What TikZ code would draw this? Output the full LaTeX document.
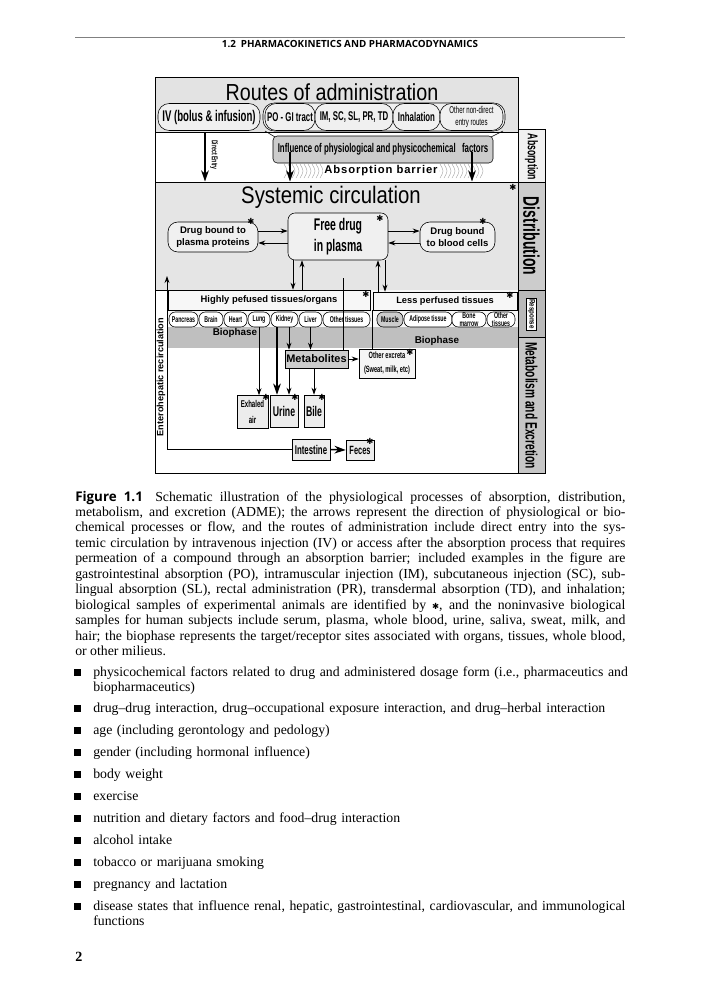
\documentclass[tikz,border=0pt]{standalone}
\usepackage{fontspec}
\setmainfont{Liberation Serif}
\setsansfont{Liberation Sans}
\newfontfamily\condf[FakeStretch=0.62]{Liberation Sans}
\newfontfamily\narrf[FakeStretch=0.8]{Liberation Sans}
\newfontfamily\titlef[FakeStretch=0.85]{Liberation Sans}
\newfontfamily\headf{Open Sans}
\newfontfamily\symf{DejaVu Sans}
\usetikzlibrary{arrows.meta}

\tikzset{
  boxwh/.style 2 args={minimum width=#1*0.025cm, minimum height=#2*0.025cm},
  panel/.style={draw, line width=0.7pt},
  route/.style={draw, rounded corners=8pt, fill=gray!12, inner sep=0.5pt, align=center,
    font=\condf\bfseries\fontsize{9}{10}\selectfont},
  organ/.style={draw, rounded corners=4.5pt, inner sep=0pt, align=center,
    font=\condf\bfseries\fontsize{6}{5.5}\selectfont},
  bound/.style={draw, rounded corners=7pt, fill=gray!12, align=center, inner sep=1pt,
    font=\sffamily\bfseries\fontsize{6.8}{8.5}\selectfont},
  outbox/.style={draw, fill=gray!15, inner sep=0.5pt, align=center},
  ast/.style={inner sep=0pt, font=\symf\fontsize{6}{6}\selectfont},
  arr/.style={-{Stealth[length=5pt,width=3.5pt]}, line width=0.7pt},
  bigarr/.style={-{Stealth[length=8pt,width=5.5pt]}, line width=1.1pt},
  body/.style={inner sep=0pt, font=\fontsize{9.8}{11}\selectfont},
  bul/.style={fill=black, inner sep=0pt, minimum size=0.16cm},
}

\begin{document}
\begin{tikzpicture}[x=0.025cm, y=-0.025cm]
  % Page
  \path[use as bounding box, fill=white] (0,0) rectangle (700,1000);

  % Running head
  \draw[gray, line width=0.4pt] (75,37) -- (625,37);
  \node[anchor=base, inner sep=0pt, font=\headf\bfseries\fontsize{7}{8}\selectfont] (head) at (350,47)
    {1.2\enspace PHARMACOKINETICS AND PHARMACODYNAMICS};

  % Panels
  \node[panel, fill=gray!22, boxwh={363}{55}] (routes) at (336.5,104.5) {};
  \node[panel, fill=gray!20, boxwh={363}{108}] (syst) at (336.5,236) {};
  \fill[gray!6] (168,290) rectangle (518,327);
  \fill[gray!50] (168,327) rectangle (518,348);
  \draw[panel] (155,132) -- (155,473) -- (545,473) -- (545,132) -- (518,132);

  % Side column
  \node[draw, fill=gray!12, rotate=-90, boxwh={50}{27}, font=\condf\bfseries\fontsize{10}{10}\selectfont]
    (absorb) at (531.5,157) {Absorption};
  \node[draw, fill=gray!40, rotate=-90, boxwh={108}{27}, font=\condf\bfseries\fontsize{16}{16}\selectfont]
    (distrib) at (531.5,236) {Distribution};
  \node[draw, fill=gray!55, rotate=-90, boxwh={48}{27}] (resp) at (531.5,314) {};
  \node[draw, fill=white, rotate=-90, inner sep=1pt, font=\narrf\bfseries\fontsize{5.5}{6}\selectfont]
    (resplabel) at (531.5,314) {Response};
  \node[draw, fill=gray!45, rotate=-90, boxwh={135}{27}, font=\condf\bfseries\fontsize{11.7}{12}\selectfont]
    (metexc) at (531.5,405.5) {Metabolism and Excretion};

  % Routes of administration
  \node[anchor=base, inner sep=0pt, font=\titlef\fontsize{16.5}{17}\selectfont] (routetitle) at (332,100)
    {Routes of administration};
  \draw[rounded corners=8pt, fill=gray!12] (263,103) rectangle (505,131);
  \node[route, boxwh={102}{27}, font=\condf\bfseries\fontsize{11}{11}\selectfont] (iv) at (209,117)
    {IV (bolus \& infusion)};
  \node[route, boxwh={50}{27}] (po) at (290,117) {PO - GI tract};
  \node[route, boxwh={78}{27}] (im) at (354,117) {IM, SC, SL, PR, TD};
  \node[route, boxwh={47}{27}] (inh) at (416.5,117) {Inhalation};
  \node[route, boxwh={63}{27}, font=\condf\fontsize{7}{8}\selectfont] (other) at (471.5,117)
    {Other non-direct\\entry routes};

  % Absorption
  \draw (265,131) -- (275,137);
  \draw (503,131) -- (491,137);
  \foreach \x in {284,288,...,480}
    \draw[gray!70, line width=0.3pt] (\x,164) .. controls (\x+4,171) .. (\x,178);
  \node[draw, fill=gray!40, rounded corners=3pt, boxwh={220}{27}, inner sep=1pt,
    font=\condf\bfseries\fontsize{9}{10}\selectfont] (infl) at (383,149.5)
    {Influence of physiological and physicochemical\enspace factors};
  \node[fill=white, inner sep=1pt, font=\sffamily\bfseries\fontsize{8}{9}\selectfont\addfontfeature{LetterSpace=8}]
    (barrier) at (381,171) {Absorption barrier};
  \coordinate (fa1) at (290,152);
  \coordinate (fa2) at (472,152);
  \draw[bigarr] (fa1) -- (fa1 |- syst.north);
  \draw[bigarr] (fa2) -- (fa2 |- syst.north);
  \draw[bigarr] (routes.south -| 205,0) -- (syst.north -| 205,0);
  \node[rotate=-90, inner sep=0pt, font=\condf\bfseries\fontsize{6}{6}\selectfont] (dlabel) at (214,155)
    {Direct Entry};

  % Systemic circulation
  \node[anchor=base, inner sep=0pt, font=\titlef\fontsize{17}{17}\selectfont] (systitle) at (331,203)
    {Systemic circulation};
  \node[draw, rounded corners=5pt, fill=gray!12, boxwh={100}{47}, align=center,
    font=\condf\bfseries\fontsize{12}{15}\selectfont] (free) at (338,236.5) {Free drug\\in plasma};
  \node[bound, boxwh={90}{30}] (plasma) at (213,237) {Drug bound to\\plasma proteins};
  \node[bound, boxwh={75}{30}] (cells) at (457.5,237) {Drug bound\\to blood cells};
  \draw[arr] (plasma.east |- 0,231) -- (free.west |- 0,231);
  \draw[arr] (free.west |- 0,243) -- (plasma.east |- 0,243);
  \draw[arr] (free.east |- 0,231) -- (cells.west |- 0,231);
  \draw[arr] (cells.west |- 0,243) -- (free.east |- 0,243);

  % Tissues
  \node[draw, fill=gray!6, boxwh={202}{20}, font=\sffamily\bfseries\fontsize{6.7}{7}\selectfont]
    (high) at (269,300) {Highly pefused tissues/organs};
  \node[draw, fill=gray!6, boxwh={144}{18}, font=\sffamily\bfseries\fontsize{6.6}{7}\selectfont]
    (less) at (445,301) {Less perfused tissues};
  \foreach \n/\x/\w/\c/\t in {panc/183.5/29/white/Pancreas, brain/211/24/white/Brain,
      heart/235.5/23/white/Heart, lung/259/22/white/Lung, kidney/284.5/27/white/Kidney,
      liver/310.5/23/white/Liver, othA/346.5/47/white/Other tissues, muscle/390/26/gray!40/Muscle,
      adip/428/48/white/Adipose tissue, bone/469/34/white/{Bone\\marrow}, othB/501/28/white/{Other\\tissues}}
    \node[organ, fill=\c, boxwh={\w}{15}] (\n) at (\x,319.5) {\t};
  \node[inner sep=0pt, font=\sffamily\bfseries\fontsize{7}{7}\selectfont] (bioA) at (235,333) {Biophase};
  \node[inner sep=0pt, font=\sffamily\bfseries\fontsize{7}{7}\selectfont] (bioB) at (437,341) {Biophase};
  \draw[arr] (free.south -| 293,0) -- (high.north -| 293,0);
  \draw[arr] (high.north -| 302,0) -- (free.south -| 302,0);
  \draw[arr] (less.north -| 378,0) -- (free.south -| 378,0);
  \draw[arr] (free.south -| 385,0) -- (less.north -| 385,0);

  % Metabolism and excretion
  \node[draw, fill=gray!40, boxwh={63}{18}, inner sep=0.5pt, font=\sffamily\bfseries\fontsize{7.8}{8}\selectfont]
    (metab) at (316.5,359) {Metabolites};
  \node[draw, fill=gray!8, boxwh={56}{29}, inner sep=0.5pt, align=center,
    font=\condf\bfseries\fontsize{6.5}{10}\selectfont] (excr) at (387,363.5) {Other excreta\\(Sweat, milk, etc)};
  \node[outbox, boxwh={31}{33}, font=\condf\bfseries\fontsize{7}{11}\selectfont] (exh) at (252.5,412)
    {Exhaled\\air};
  \node[outbox, boxwh={28}{32}, font=\condf\bfseries\fontsize{10}{10}\selectfont] (urine) at (284,411) {Urine};
  \node[outbox, boxwh={20}{32}, font=\condf\bfseries\fontsize{10}{10}\selectfont] (bile) at (314,411) {Bile};
  \node[outbox, boxwh={38}{21}, font=\condf\bfseries\fontsize{9}{9}\selectfont] (intes) at (311,449.5) {Intestine};
  \node[outbox, boxwh={28}{20}, font=\condf\bfseries\fontsize{8.5}{9}\selectfont] (feces) at (360,450) {Feces};
  \node[rotate=90, inner sep=0pt, font=\sffamily\bfseries\fontsize{6.5}{7}\selectfont] (ehlabel) at (161,377)
    {Enterohepatic recirculation};

  \coordinate (sysdrop) at (343,278);
  \coordinate (ehend) at (167,276);
  \draw (sysdrop) -- (sysdrop |- metab.north);
  \draw (less.south west) -- (less.south west |- excr.north);
  \draw[arr] (metab.east) -- (metab.east -| excr.west);
  \draw[arr] (lung.south) -- (lung.south |- exh.north);
  \draw[bigarr] (kidney.south -| 277,0) -- (urine.north -| 277,0);
  \draw[arr] (kidney.south -| 289,0) -- (metab.north -| 289,0);
  \draw[arr] (liver.south) -- (liver.south |- metab.north);
  \draw[arr] (metab.south -| 289,0) -- (urine.north -| 289,0);
  \draw[arr] (bile.north |- metab.south) -- (bile.north);
  \draw[bigarr] (intes.east) -- (feces.west);
  \draw[arr] (intes.west) -| (ehend);

  % Sample markers
  \foreach \p [count=\i] in {(513,187), (380,218), (251,221), (483,221), (366,294), (510,295),
      (410,352), (266,397), (295,397), (322,397), (370,441)}
    \node[ast] (st\i) at \p {✱};

  % Caption
  \node[body, anchor=base west, text width=13.75cm, align=justify] (caption) at (75,501)
    {{\headf\bfseries\fontsize{9.5}{11}\selectfont Figure 1.1}\hspace{0.9em}Schematic illustration of the physiological processes of absorption, distribution,\linebreak
    metabolism, and excretion (ADME); the arrows represent the direction of physiological or bio-\linebreak
    chemical processes or flow, and the routes of administration include direct entry into the sys-\linebreak
    temic circulation by intravenous injection (IV) or access after the absorption process that requires\linebreak
    permeation of a compound through an absorption barrier; included examples in the figure are\linebreak
    gastrointestinal absorption (PO), intramuscular injection (IM), subcutaneous injection (SC), sub-\linebreak
    lingual absorption (SL), rectal administration (PR), transdermal absorption (TD), and inhalation;\linebreak
    biological samples of experimental animals are identified by {\symf\fontsize{6}{6}\selectfont ✱}, and the noninvasive biological\linebreak
    samples for human subjects include serum, plasma, whole blood, urine, saliva, sweat, milk, and\linebreak
    hair; the biophase represents the target/receptor sites associated with organs, tissues, whole blood,\linebreak
    or other milieus.};

  % Factor list
  \foreach \yy/\txt [count=\i] in {
      676/{physicochemical factors related to drug and administered dosage form (i.e., pharmaceutics and\\biopharmaceutics)},
      712/{drug--drug interaction, drug--occupational exposure interaction, and drug--herbal interaction},
      734/{age (including gerontology and pedology)},
      756/{gender (including hormonal influence)},
      778/{body weight},
      800/{exercise},
      822/{nutrition and dietary factors and food--drug interaction},
      844/{alcohol intake},
      866/{tobacco or marijuana smoking},
      888/{pregnancy and lactation},
      910/{disease states that influence renal, hepatic, gastrointestinal, cardiovascular, and immunological\\functions}} {
    \node[bul] (bul\i) at (77.5,\yy-3.5) {};
    \node[body, anchor=base west, text width=13.4cm, align=left] (item\i) at (93,\yy) {\txt};
  }

  % Page number
  \node[anchor=base west, inner sep=0pt, font=\bfseries\fontsize{10}{10}\selectfont] (pageno) at (75,961) {2};
\end{tikzpicture}
\end{document}
